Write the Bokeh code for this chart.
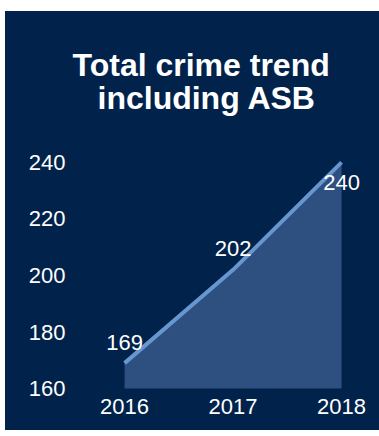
from bokeh.plotting import figure
from bokeh.models import Range1d, FixedTicker, ColumnDataSource, Title
from bokeh.core.properties import value
from bokeh.embed import file_html
from bokeh.resources import INLINE

# ---- data ----
years = [2016, 2017, 2018]
crimes = [169, 202, 240]
y_ticks = [160, 180, 200, 220, 240]
title_line1 = "Total crime trend"
title_line2 = "including ASB"

# ---- style ----
NAVY = "#01234B"
AREA = "#2D5080"
LINE = "#6797CF"
FONT = "Liberation Sans"

p = figure(width=374, height=419, margin=(11, 0, 6, 5),
           x_range=Range1d(2015.64, 2018.313), y_range=Range1d(157.2, 247.4),
           output_backend="svg", toolbar_location=None,
           background_fill_color=None, border_fill_color=None,
           outline_line_color=None,
           styles={"background-color": NAVY},
           min_border_left=80, min_border_right=4, min_border_bottom=34,
           min_border_top=130)

def style_title(t, off):
    t.align = "left"
    t.offset = off
    t.text_font = FONT
    t.text_font_size = "32px"
    t.text_font_style = "bold"
    t.text_color = "white"

p.title.text = title_line1
style_title(p.title, -13)
p.title.standoff = -63
t2 = Title(text=title_line2)
style_title(t2, 12)
t2.standoff = 52
p.add_layout(t2, "above")

baseline = y_ticks[0]
p.varea(x=years, y1=[baseline] * len(years), y2=crimes, fill_color=AREA)
p.line(years, crimes, line_width=4, line_color=LINE)

offsets = [20 if v == max(crimes) else -21 for v in crimes]
src = ColumnDataSource(dict(x=years, y=crimes, t=[str(v) for v in crimes], off=offsets))
p.text(x="x", y="y", text="t", y_offset="off", source=src,
       text_align="center", text_baseline="middle",
       text_font=value(FONT), text_font_size="22px", text_color="white")

p.xaxis.ticker = FixedTicker(ticks=years)
p.yaxis.ticker = FixedTicker(ticks=y_ticks)
for ax in (p.xaxis, p.yaxis):
    ax.axis_line_color = None
    ax.major_tick_line_color = None
    ax.minor_tick_line_color = None
    ax.major_tick_out = 0
    ax.major_label_text_color = "white"
    ax.major_label_text_font = FONT
    ax.major_label_text_font_size = "22px"
p.yaxis.major_label_standoff = 20
p.xaxis.major_label_standoff = 2
p.xgrid.grid_line_color = None
p.ygrid.grid_line_color = None

open("out.html", "w").write(file_html(p, INLINE))
